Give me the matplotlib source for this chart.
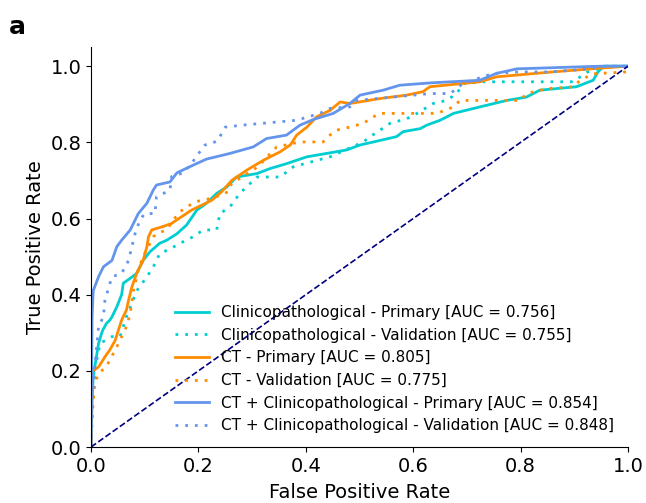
import matplotlib
matplotlib.use("Agg")
import matplotlib.pyplot as plt

# ROC points (fpr, tpr)
clin_pri_fpr = [0, 0.002, 0.004, 0.007, 0.014, 0.02, 0.023, 0.029, 0.035, 0.039, 0.048, 0.057, 0.06, 0.073,
                0.085, 0.097, 0.11, 0.128, 0.141, 0.16, 0.178, 0.197, 0.215, 0.234, 0.253, 0.271, 0.309,
                0.333, 0.364, 0.402, 0.439, 0.476, 0.501, 0.526, 0.569, 0.581, 0.613, 0.625, 0.65, 0.675,
                0.724, 0.774, 0.811, 0.836, 0.904, 0.935, 0.944, 0.955, 1.0]
clin_pri_tpr = [0, 0.12, 0.185, 0.21, 0.272, 0.30, 0.31, 0.325, 0.333, 0.342, 0.368, 0.40, 0.43, 0.443,
                0.456, 0.49, 0.513, 0.535, 0.543, 0.56, 0.583, 0.622, 0.64, 0.666, 0.683, 0.709, 0.718,
                0.731, 0.744, 0.762, 0.771, 0.78, 0.793, 0.801, 0.815, 0.828, 0.836, 0.845, 0.858, 0.876,
                0.893, 0.91, 0.919, 0.937, 0.946, 0.963, 0.985, 1.0, 1.0]

clin_val_fpr = [0, 0.003, 0.008, 0.017, 0.039, 0.054, 0.066, 0.085, 0.104, 0.116, 0.128, 0.147, 0.166,
                0.19, 0.209, 0.234, 0.24, 0.253, 0.259, 0.277, 0.309, 0.352, 0.377, 0.445, 0.507, 0.52,
                0.557, 0.588, 0.607, 0.637, 0.662, 0.681, 0.693, 0.73, 0.898, 0.911, 0.925, 0.96, 1.0]
clin_val_tpr = [0, 0.12, 0.21, 0.272, 0.29, 0.29, 0.342, 0.41, 0.447, 0.473, 0.508, 0.52, 0.535,
                0.552, 0.57, 0.57, 0.613, 0.625, 0.631, 0.666, 0.709, 0.709, 0.736, 0.762, 0.801, 0.815,
                0.85, 0.862, 0.876, 0.902, 0.91, 0.928, 0.954, 0.959, 0.959, 0.972, 0.985, 1.0, 1.0]

ct_pri_fpr = [0, 0.001, 0.014, 0.026, 0.035, 0.045, 0.051, 0.057, 0.066, 0.07, 0.076, 0.085, 0.097,
              0.104, 0.107, 0.113, 0.132, 0.15, 0.169, 0.187, 0.206, 0.225, 0.243, 0.262, 0.29, 0.321,
              0.352, 0.371, 0.383, 0.402, 0.42, 0.445, 0.464, 0.482, 0.538, 0.588, 0.618, 0.631, 0.724,
              0.755, 0.86, 0.95, 1.0]
ct_pri_tpr = [0, 0.198, 0.21, 0.237, 0.255, 0.28, 0.307, 0.333, 0.36, 0.386, 0.42, 0.456, 0.49,
              0.526, 0.552, 0.57, 0.578, 0.587, 0.605, 0.622, 0.635, 0.648, 0.67, 0.70, 0.727, 0.753,
              0.775, 0.793, 0.819, 0.84, 0.867, 0.884, 0.906, 0.902, 0.915, 0.924, 0.933, 0.946, 0.959,
              0.972, 0.985, 0.995, 1.0]

ct_val_fpr = [0, 0.002, 0.007, 0.013, 0.03, 0.048, 0.066, 0.073, 0.079, 0.088, 0.097, 0.11, 0.116,
              0.122, 0.141, 0.153, 0.166, 0.175, 0.194, 0.23, 0.255, 0.262, 0.311, 0.34, 0.346, 0.389,
              0.432, 0.445, 0.457, 0.482, 0.507, 0.526, 0.538, 0.644, 0.675, 0.687, 0.799, 0.811,
              0.849, 0.898, 0.911, 0.935, 0.998, 1.0]
ct_val_tpr = [0, 0.08, 0.167, 0.19, 0.215, 0.263, 0.316, 0.35, 0.41, 0.465, 0.5, 0.535, 0.552,
              0.56, 0.57, 0.596, 0.618, 0.627, 0.644, 0.655, 0.67, 0.692, 0.736, 0.78, 0.788, 0.801,
              0.801, 0.819, 0.832, 0.84, 0.85, 0.867, 0.876, 0.876, 0.893, 0.91, 0.91, 0.928,
              0.941, 0.946, 0.963, 0.98, 0.985, 1.0]

comb_pri_fpr = [0, 0.002, 0.004, 0.014, 0.023, 0.039, 0.048, 0.057, 0.073, 0.088, 0.104, 0.116, 0.122,
                0.147, 0.16, 0.19, 0.215, 0.259, 0.302, 0.327, 0.364, 0.389, 0.414, 0.451, 0.482, 0.501,
                0.544, 0.575, 0.631, 0.724, 0.755, 0.793, 0.95, 1.0]
comb_pri_tpr = [0, 0.342, 0.41, 0.447, 0.473, 0.49, 0.526, 0.543, 0.57, 0.613, 0.64, 0.675, 0.688,
                0.696, 0.72, 0.74, 0.756, 0.771, 0.788, 0.81, 0.819, 0.845, 0.86, 0.876, 0.902, 0.924,
                0.937, 0.95, 0.956, 0.963, 0.981, 0.993, 1.0, 1.0]

comb_val_fpr = [0, 0.002, 0.007, 0.014, 0.023, 0.026, 0.039, 0.057, 0.07, 0.076, 0.082, 0.091, 0.1,
                0.119, 0.122, 0.135, 0.147, 0.15, 0.172, 0.187, 0.2, 0.212, 0.225, 0.237, 0.243, 0.25,
                0.28, 0.383, 0.426, 0.445, 0.482, 0.495, 0.631, 0.669, 0.693, 0.749, 0.799, 0.855,
                0.929, 0.96, 1.0]
comb_val_tpr = [0, 0.123, 0.21, 0.316, 0.342, 0.386, 0.447, 0.456, 0.49, 0.526, 0.56, 0.596, 0.613,
                0.613, 0.657, 0.666, 0.675, 0.71, 0.72, 0.744, 0.77, 0.793, 0.797, 0.806, 0.823, 0.84,
                0.845, 0.858, 0.876, 0.889, 0.893, 0.91, 0.928, 0.928, 0.955, 0.981, 0.985, 0.985,
                0.993, 1.0, 1.0]

labels = ["Clinicopathological - Primary [AUC = 0.756]",
          "Clinicopathological - Validation [AUC = 0.755]",
          "CT - Primary [AUC = 0.805]",
          "CT - Validation [AUC = 0.775]",
          "CT + Clinicopathological - Primary [AUC = 0.854]",
          "CT + Clinicopathological - Validation [AUC = 0.848]"]

dots = (0, (1, 2.5))

fig = plt.figure(figsize=(6.46, 5.03), dpi=100)
ax = fig.add_axes([0.1409, 0.1113, 0.8313, 0.795])

ax.plot(clin_pri_fpr, clin_pri_tpr, color="darkturquoise", lw=2, label=labels[0])
ax.plot(clin_val_fpr, clin_val_tpr, color="darkturquoise", lw=2, ls=dots, label=labels[1])
ax.plot(ct_pri_fpr, ct_pri_tpr, color="darkorange", lw=2, label=labels[2])
ax.plot(ct_val_fpr, ct_val_tpr, color="darkorange", lw=2, ls=dots, label=labels[3])
ax.plot(comb_pri_fpr, comb_pri_tpr, color="cornflowerblue", lw=2, label=labels[4])
ax.plot(comb_val_fpr, comb_val_tpr, color="cornflowerblue", lw=2, ls=dots, label=labels[5])
ax.plot([0, 1], [0, 1], color="navy", lw=1.2, ls="--")

ax.set_xlim(0, 1)
ax.set_ylim(0, 1.05)
ax.set_xticks([0, 0.2, 0.4, 0.6, 0.8, 1.0])
ax.set_yticks([0, 0.2, 0.4, 0.6, 0.8, 1.0])
ax.tick_params(labelsize=14)
ax.spines["top"].set_visible(False)
ax.spines["right"].set_visible(False)
ax.set_xlabel("False Positive Rate", fontsize=14, labelpad=5)
ax.set_ylabel("True Positive Rate", fontsize=14)
ax.legend(loc="lower right", fontsize=11, frameon=False, handlelength=2.2)

fig.text(0.014, 0.933, "a", fontsize=18, fontweight="bold")

fig.savefig("out.png", dpi=100)
